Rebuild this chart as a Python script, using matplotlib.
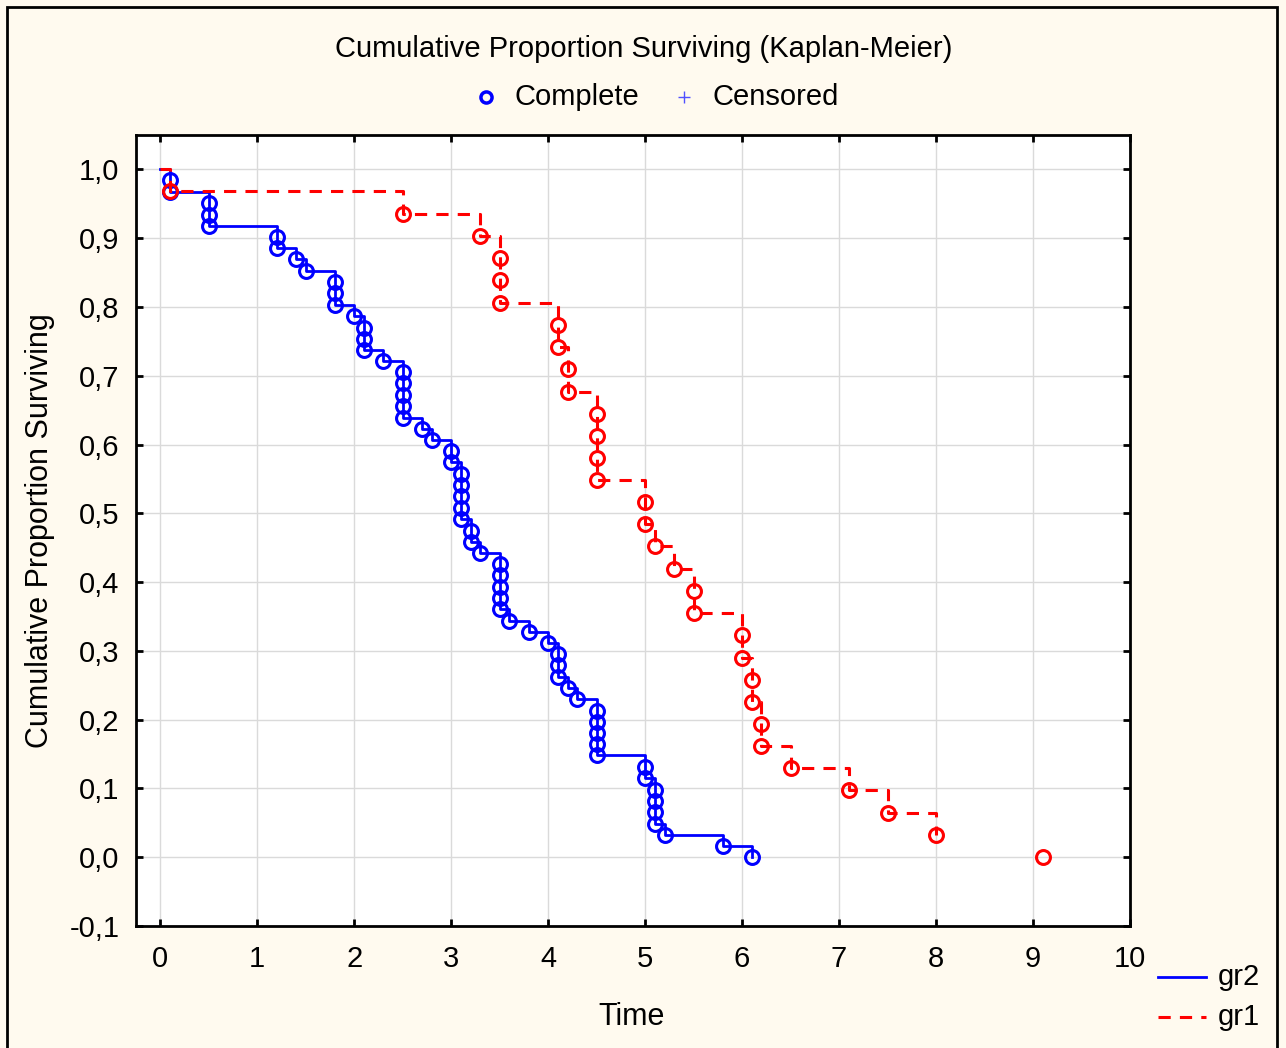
import matplotlib
matplotlib.use("Agg")
import matplotlib.pyplot as plt
from matplotlib.lines import Line2D
from matplotlib.patches import Rectangle
from matplotlib.ticker import FuncFormatter, MultipleLocator

plt.rcParams['font.family'] = ['Liberation Sans', 'DejaVu Sans']

# ---- data ----
gr2_times = [0.1, 0.1, 0.5, 0.5, 0.5, 1.2, 1.2, 1.4, 1.5, 1.8, 1.8, 1.8, 2.0,
             2.1, 2.1, 2.1, 2.3, 2.5, 2.5, 2.5, 2.5, 2.5, 2.7, 2.8, 3.0, 3.0,
             3.1, 3.1, 3.1, 3.1, 3.1, 3.2, 3.2, 3.3, 3.5, 3.5, 3.5, 3.5, 3.5,
             3.6, 3.8, 4.0, 4.1, 4.1, 4.1, 4.2, 4.3, 4.5, 4.5, 4.5, 4.5, 4.5,
             5.0, 5.0, 5.1, 5.1, 5.1, 5.1, 5.2, 5.8, 6.1]
gr2_surv = [0.984, 0.967, 0.951, 0.934, 0.918, 0.902, 0.885, 0.869, 0.852,
            0.836, 0.820, 0.803, 0.787, 0.770, 0.754, 0.738, 0.721, 0.705,
            0.689, 0.672, 0.656, 0.639, 0.623, 0.607, 0.590, 0.574, 0.557,
            0.541, 0.525, 0.508, 0.492, 0.475, 0.459, 0.443, 0.426, 0.410,
            0.393, 0.377, 0.361, 0.344, 0.328, 0.311, 0.295, 0.279, 0.262,
            0.246, 0.230, 0.213, 0.197, 0.180, 0.164, 0.148, 0.131, 0.115,
            0.098, 0.082, 0.066, 0.049, 0.033, 0.016, 0.000]

gr1_times = [0.1, 2.5, 3.3, 3.5, 3.5, 3.5, 4.1, 4.1, 4.2, 4.2, 4.5, 4.5, 4.5,
             4.5, 5.0, 5.0, 5.1, 5.3, 5.5, 5.5, 6.0, 6.0, 6.1, 6.1, 6.2, 6.2,
             6.5, 7.1, 7.5, 8.0, 9.1]
gr1_surv = [0.968, 0.935, 0.903, 0.871, 0.839, 0.806, 0.774, 0.742, 0.710,
            0.677, 0.645, 0.613, 0.581, 0.548, 0.516, 0.484, 0.452, 0.419,
            0.387, 0.355, 0.323, 0.290, 0.258, 0.226, 0.194, 0.161, 0.129,
            0.097, 0.065, 0.032, 0.000]

x_ticks = [0, 1, 2, 3, 4, 5, 6, 7, 8, 9, 10]
title = "Cumulative Proportion Surviving (Kaplan-Meier)"

BLUE = '#0000FF'
RED = '#FF0000'
BG = '#FFFAEF'
FS = 21

W, H = 1286, 1048
fig = plt.figure(figsize=(W / 100, H / 100), dpi=100, facecolor=BG)


def fx(px):
    return px / W


def fy(py):
    return 1 - py / H


ax = fig.add_axes([fx(136), fy(926), fx(1130) - fx(136), fy(135) - fy(926)])
ax.set_facecolor('white')
ax.set_xlim(-0.25, 10)
ax.set_ylim(-0.1, 1.05)
ax.xaxis.set_major_locator(MultipleLocator(1))
ax.set_yticks([round(-0.1 + 0.1 * i, 1) for i in range(12)])
ax.set_xticks(x_ticks)
ax.yaxis.set_major_formatter(FuncFormatter(lambda v, p: f"{v:.1f}".replace('.', ',').replace('-0,0', '0,0')))
ax.xaxis.set_major_formatter(FuncFormatter(lambda v, p: f"{v:g}"))
ax.grid(True, color='#DADADA', lw=1)
ax.set_axisbelow(True)
for s in ax.spines.values():
    s.set_linewidth(2)
ax.tick_params(direction='in', length=5, width=2, top=True, right=True,
               labelsize=FS, colors='black')
ax.tick_params(axis='y', pad=12)
ax.tick_params(axis='x', pad=14)

# gr2 : solid blue
ax.step([0] + gr2_times, [1.0] + gr2_surv, where='post', color=BLUE, lw=2, zorder=3)
ax.plot(gr2_times, gr2_surv, ls='none', marker='o', ms=10, mfc='none', mec=BLUE,
        mew=2.2, zorder=4)

# gr1 : dashed red (line stops at last step before final event)
ax.step([0] + gr1_times[:-1], [1.0] + gr1_surv[:-1], where='post', color=RED,
        lw=2.2, dashes=(4, 3), zorder=5)
ax.plot(gr1_times, gr1_surv, ls='none', marker='o', ms=10, mfc='none', mec=RED,
        mew=2.2, zorder=6)

# labels
fig.text(fx(644), fy(49), title, ha='center', va='center', fontsize=FS)
fig.text(fx(40), fy(531), "Cumulative Proportion Surviving", rotation=90,
         ha='center', va='center', fontsize=FS + 1)
fig.text(fx(632), fy(1017), "Time", ha='center', va='center', fontsize=FS + 1)

# top legend
fig.add_artist(Line2D([fx(486)], [fy(97)], transform=fig.transFigure, ls='none',
                      marker='o', ms=8, mfc='none', mec=BLUE, mew=2.5))
fig.text(fx(514), fy(97), "Complete", ha='left', va='center', fontsize=FS)
fig.add_artist(Line2D([fx(684)], [fy(97)], transform=fig.transFigure, ls='none',
                      marker='+', ms=8, mec='#5050FF', mew=1))
fig.text(fx(713), fy(97), "Censored", ha='left', va='center', fontsize=FS)

# bottom-right legend
fig.add_artist(Line2D([fx(1158), fx(1206)], [fy(977), fy(977)],
                      transform=fig.transFigure, color=BLUE, lw=2))
fig.text(fx(1218), fy(977), "gr2", ha='left', va='center', fontsize=FS)
fig.add_artist(Line2D([fx(1158), fx(1206)], [fy(1017), fy(1017)],
                      transform=fig.transFigure, color=RED, lw=2.2, dashes=(4, 3)))
fig.text(fx(1218), fy(1017), "gr1", ha='left', va='center', fontsize=FS)

# figure frame
fig.add_artist(Rectangle((fx(7), fy(1060)), fx(1277) - fx(7), fy(7) - fy(1060),
                         transform=fig.transFigure, fill=False, ec='black', lw=2))

fig.savefig("out.png", dpi=100, facecolor=BG)
